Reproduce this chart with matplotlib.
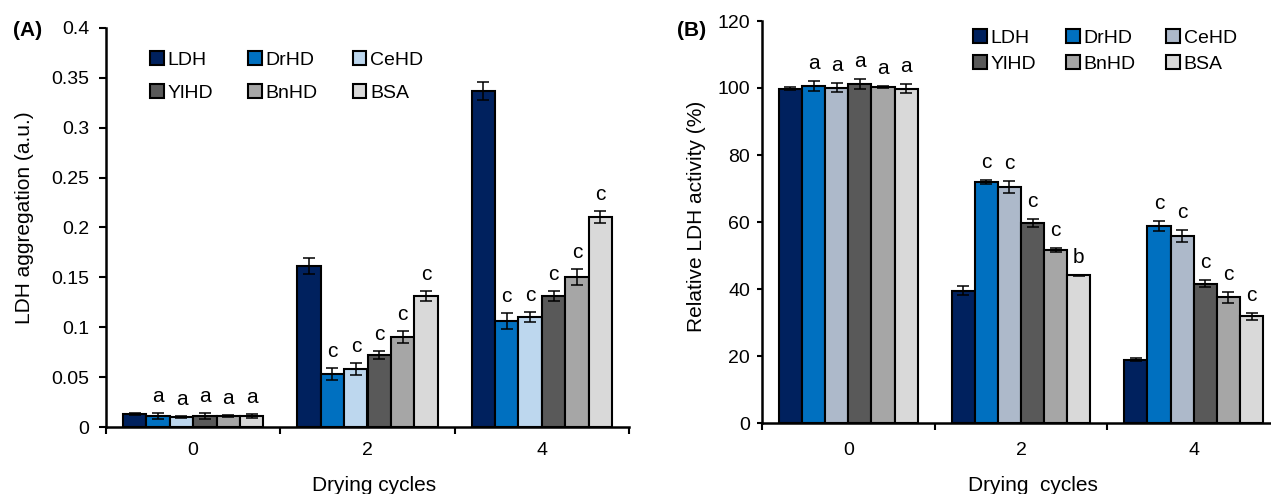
import numpy as np
import matplotlib
matplotlib.use("Agg")
import matplotlib.pyplot as plt
from matplotlib.ticker import FixedLocator, FuncFormatter

plt.rcParams['font.family'] = ['Liberation Sans', 'DejaVu Sans']

# ---------------- data ----------------
cycles = ['0', '2', '4']
series = ['LDH', 'DrHD', 'CeHD', 'YlHD', 'BnHD', 'BSA']

# Panel A: LDH aggregation (a.u.)
agg_LDH = [0.013, 0.161, 0.337]
agg_DrHD = [0.011, 0.053, 0.106]
agg_CeHD = [0.0105, 0.058, 0.110]
agg_YlHD = [0.011, 0.072, 0.131]
agg_BnHD = [0.0115, 0.090, 0.150]
agg_BSA = [0.0115, 0.131, 0.211]
agg_err_LDH = [0.001, 0.008, 0.009]
agg_err_DrHD = [0.003, 0.006, 0.008]
agg_err_CeHD = [0.001, 0.006, 0.005]
agg_err_YlHD = [0.003, 0.004, 0.005]
agg_err_BnHD = [0.001, 0.006, 0.008]
agg_err_BSA = [0.002, 0.005, 0.006]
agg_letters = [['', '', ''], ['a', 'c', 'c'], ['a', 'c', 'c'],
               ['a', 'c', 'c'], ['a', 'c', 'c'], ['a', 'c', 'c']]

# Panel B: relative LDH activity (%)
act_LDH = [99.8, 39.5, 18.9]
act_DrHD = [100.6, 71.9, 58.8]
act_CeHD = [100.1, 70.5, 55.9]
act_YlHD = [101.1, 59.7, 41.6]
act_BnHD = [100.3, 51.6, 37.5]
act_BSA = [99.8, 44.1, 31.8]
act_err_LDH = [0.5, 1.4, 0.4]
act_err_DrHD = [1.6, 0.5, 1.5]
act_err_CeHD = [1.3, 1.7, 1.8]
act_err_YlHD = [1.5, 1.3, 1.1]
act_err_BnHD = [0.4, 0.6, 1.6]
act_err_BSA = [1.3, 0.2, 1.0]
act_letters = [['', '', ''], ['a', 'c', 'c'], ['a', 'c', 'c'],
               ['a', 'c', 'c'], ['a', 'c', 'c'], ['a', 'b', 'c']]

colors_A = ['#00215E', '#0070C0', '#BDD7EE', '#595959', '#A6A6A6', '#D9D9D9']
colors_B = ['#00215E', '#0070C0', '#ADB9CA', '#595959', '#A6A6A6', '#D9D9D9']

W, H = 1271, 494
fig = plt.figure(figsize=(W / 100, H / 100), dpi=100)

FS = 14      # tick labels / legend
LFS = 15     # axis labels
CFS = 15     # significance letters


def px(x0, y0, x1, y1):
    # pixel box (top-left origin) -> figure fraction [l, b, w, h]
    return [x0 / W, 1 - y1 / H, (x1 - x0) / W, (y1 - y0) / H]


def draw_panel(ax, vals, errs, letters, colors, ymax, ystep, fmt,
               letter_off, ylabel, xlabel, ypad, ylen, xpad,
               ylab_coords, xlab_coords, leg_anchor, labelspacing, colspacing):
    n = len(vals)
    w = 0.134
    x = np.arange(len(cycles))
    handles = []
    for i in range(n):
        xi = x + (i - (n - 1) / 2) * w
        bc = ax.bar(xi, vals[i], w, color=colors[i], edgecolor='black',
                    linewidth=1.5, label=series[i], zorder=2,
                    yerr=errs[i], error_kw=dict(ecolor='black', elinewidth=1.1,
                                                 capsize=4, capthick=1.1, zorder=3))
        handles.append(bc)
        for j in range(len(cycles)):
            if letters[i][j]:
                ax.annotate(letters[i][j], (xi[j], vals[i][j] + errs[i][j]),
                            xytext=(0, letter_off), textcoords='offset pixels',
                            ha='center', va='bottom', fontsize=CFS)
    ax.set_xlim(-0.5, len(cycles) - 0.5)
    ax.set_ylim(0, ymax)
    ax.yaxis.set_major_locator(FixedLocator(np.arange(0, ymax + ystep / 2, ystep)))
    ax.yaxis.set_major_formatter(FuncFormatter(fmt))
    ax.set_xticks(x)
    ax.set_xticklabels(cycles)
    ax.xaxis.set_minor_locator(FixedLocator(np.arange(-0.5, len(cycles), 1.0)))
    ax.tick_params(axis='x', which='major', length=0, pad=xpad, labelsize=FS)
    ax.tick_params(axis='x', which='minor', length=5, width=1.5, direction='out')
    ax.tick_params(axis='y', which='major', length=ylen, width=1.5,
                   direction='out', pad=ypad, labelsize=FS)
    for s in ['top', 'right']:
        ax.spines[s].set_visible(False)
    for s in ['left', 'bottom']:
        ax.spines[s].set_linewidth(1.8)
    ax.set_ylabel(ylabel, fontsize=LFS)
    ax.set_xlabel(xlabel, fontsize=LFS)
    ax.yaxis.set_label_coords(*ylab_coords)
    ax.xaxis.set_label_coords(*xlab_coords)
    # legend filled row by row (3 columns, 2 rows)
    order = [0, 3, 1, 4, 2, 5]
    leg = ax.legend([handles[k] for k in order], [series[k] for k in order],
                    ncol=3, loc='upper left', bbox_to_anchor=leg_anchor,
                    bbox_transform=fig.transFigure, frameon=False,
                    fontsize=FS, handlelength=0.7, handleheight=0.7,
                    handletextpad=0.2, columnspacing=colspacing,
                    labelspacing=labelspacing, borderpad=0, borderaxespad=0)
    for h in leg.legend_handles:
        h.set_linewidth(1.5)


# Panel A
axA = fig.add_axes(px(106, 28, 629, 427))
valsA = [agg_LDH, agg_DrHD, agg_CeHD, agg_YlHD, agg_BnHD, agg_BSA]
errsA = [agg_err_LDH, agg_err_DrHD, agg_err_CeHD, agg_err_YlHD, agg_err_BnHD, agg_err_BSA]


def fmtA(v, pos):
    s = f"{v:.2f}".rstrip('0').rstrip('.')
    return s


draw_panel(axA, valsA, errsA, agg_letters, colors_A, 0.4, 0.05, fmtA, 7,
           'LDH aggregation (a.u.)', 'Drying cycles', 7, 5, 11,
           (-0.138, 0.524), (0.512, -0.122), (150 / W, 1 - 51 / H), 0.8, 1.8)

# Panel B
axB = fig.add_axes(px(762, 21, 1280, 423))
valsB = [act_LDH, act_DrHD, act_CeHD, act_YlHD, act_BnHD, act_BSA]
errsB = [act_err_LDH, act_err_DrHD, act_err_CeHD, act_err_YlHD, act_err_BnHD, act_err_BSA]


def fmtB(v, pos):
    return f"{v:.0f}"


draw_panel(axB, valsB, errsB, act_letters, colors_B, 120, 20, fmtB, 8,
           'Relative LDH activity (%)', 'Drying  cycles', 5, 3.6, 13.5,
           (-0.108, 0.515), (0.523, -0.132), (973 / W, 1 - 29 / H), 0.45, 1.55)

fig.text(13 / W, 1 - 30 / H, '(A)', fontsize=15, fontweight='bold', ha='left', va='center')
fig.text(677 / W, 1 - 30 / H, '(B)', fontsize=15, fontweight='bold', ha='left', va='center')

fig.savefig('out.png', dpi=100)
